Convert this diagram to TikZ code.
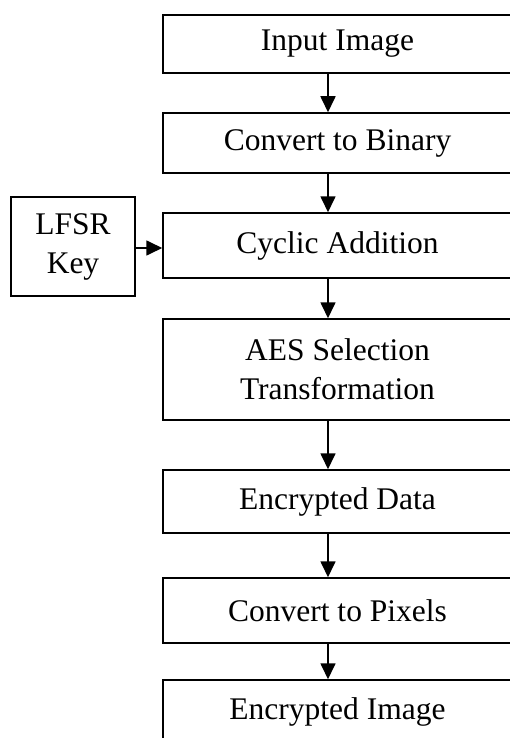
\documentclass[tikz,border=0pt]{standalone}
\usepackage{fontspec}
\setmainfont{Liberation Serif}
\usetikzlibrary{positioning,arrows.meta}

\begin{document}
\begin{tikzpicture}[x=1pt, y=-1pt,
    box/.style={draw, line width=1.5pt, align=center, inner sep=0pt, font=\fontsize{31.5}{39}\selectfont},
    wide/.style={box, minimum width=349pt},
    flow/.style={-{Triangle[length=16pt,width=15pt]}, line width=1.7pt}]
    \useasboundingbox (0,0) rectangle (509,738);

    % Main chain
    \node[wide, minimum height=58pt] (inp) at (337.5,44) {Input Image};
    \node[wide, minimum height=60pt] (bin) at (337.5,143) {Convert to Binary};
    \node[wide, minimum height=65pt] (cyc) at (337.5,245.5) {Cyclic Addition};
    \node[wide, minimum height=101pt] (aes) at (337.5,369.5) {AES Selection\\Transformation};
    \node[wide, minimum height=63pt] (enc) at (337.5,501.5) {Encrypted Data};
    \node[wide, minimum height=65pt] (pix) at (337.5,610.5) {Convert to Pixels};
    \node[wide, minimum height=64pt] (out) at (337.5,712) {Encrypted Image};

    % Key
    \node[box, minimum width=124pt, minimum height=99pt] (lfsr) at (73,246.5) {LFSR\\Key};

    % Arrows
    \draw[flow] ([xshift=-9.5pt]inp.south) -- ([xshift=-9.5pt]bin.north);
    \draw[flow] ([xshift=-9.5pt]bin.south) -- ([xshift=-9.5pt]cyc.north);
    \draw[flow] ([xshift=-9.5pt]cyc.south) -- ([xshift=-9.5pt]aes.north);
    \draw[flow] ([xshift=-9.5pt]aes.south) -- ([xshift=-9.5pt]enc.north);
    \draw[flow] ([xshift=-9.5pt]enc.south) -- ([xshift=-9.5pt]pix.north);
    \draw[flow] ([xshift=-9.5pt]pix.south) -- ([xshift=-9.5pt]out.north);
    \draw[flow] ([yshift=-1.5pt]lfsr.east) -- ([yshift=-1.5pt]lfsr.east -| cyc.west);
\end{tikzpicture}
\end{document}
